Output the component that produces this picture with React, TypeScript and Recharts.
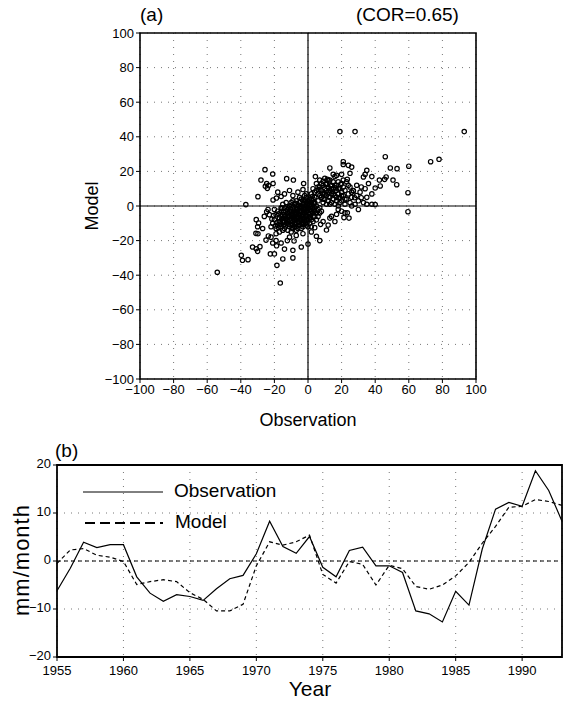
import {
  ScatterChart,
  Scatter,
  LineChart,
  Line,
  XAxis,
  YAxis,
  CartesianGrid,
  ReferenceLine,
  ReferenceArea,
} from 'recharts'

// panel (a): [observation, model] pairs
const scatterPoints: [number, number][] = [
  // outliers and the sparse edges
  [19, 43], [28, 43], [93, 43], [46, 28.5], [73, 25.6], [78, 27], [60, 23], [49, 22], [53, 21.6],
  [21, 25.6], [21, 24], [24, 23.5], [26, 22.5], [13, 22], [35, 20.6], [34, 18.3], [33, 16.8],
  [38, 17], [42.5, 15], [46.5, 16.8], [45.6, 15.4], [50.6, 15], [52.8, 12.3], [43, 11.6],
  [40, 10.4], [59.5, 7.7], [31.7, 11], [29, 12], [27, 8.7], [27.8, 4.8], [31.7, 4.8], [40, 0.8],
  [59.5, -3.3], [23.4, -3.9], [24.4, -7], [21.4, -6.7], [20, -3], [17, -4.8], [14, -6], [13, -7],
  [11, -13.9], [7.5, -10.6], [5, -17.5], [4, -12.5], [0, -22], [-4, -23.7], [-9, -25.6], [-9, -30],
  [-15, -30.6], [-18.5, -34.3], [-16.5, -44.5], [-54, -38.3], [-39.7, -28.5], [-39, -31.4],
  [-35.7, -31], [-33, -23.7], [-30.8, -24.7], [-30, -26.2], [-28.6, -23.5], [-22.4, -27.7],
  [-20, -27.7], [-21, -21.4], [-18.7, -23], [-14, -24.9], [-16, -21.4], [-12.3, -20], [-8.3, -20.2],
  [-25, -19.7], [-23.6, -17.3], [-29.8, -16], [-31, -15.8], [-30.8, -7.9], [-30, -12], [-29.4, -9.8],
  [-37, 0.8], [-29.8, 5.4], [-28, 15], [-25.6, 21], [-21, 18.5], [-24.6, 13], [-25.4, 11.4],
  [-23.4, 11.8], [-20.8, 13], [-24.2, 10.2], [-12.7, 15.8], [-8.7, 15], [-20.8, 3.5], [-18.8, 4.6],
  [-23.8, -2], [-24.6, -3.3], [-2.6, 13], [4.4, 17], [9, 14.3], [11, 12.5], [15, 18.3], [17, 17.7],
  [20, 18.3], [25, 18.9], [23.4, 15.4], [-18, 8], [-14, 7], [-11, 9], [-9, 6], [-16, 5.5], [-6, 8],
  [-3, 9.5], [-1, 7], [-26, -6], [-27, -13], [-22, -18], [-19, -20], [-7, -17], [-3, -16], [2, -15],
  [9, -9], [12, -11], [16, -9], [18, -2], [22, -4], [26, 0], [30, -2], [35, 1], [7, -20], [-11, -18],
  // dense centre blob
  [-20, -8], [-19, -5], [-18, -11], [-17, -7], [-16, -3], [-16, -12], [-15, -9], [-15, -5], [-14, -1],
  [-14, -13], [-13, -7], [-13, -10], [-12, -4], [-12, -2], [-12, -14], [-11, -8], [-11, -6], [-11, 0],
  [-10, -11], [-10, -5], [-10, -3], [-10, 2], [-9, -9], [-9, -7], [-9, -1], [-9, -13], [-8, -4],
  [-8, -6], [-8, 1], [-8, -10], [-7, -8], [-7, -2], [-7, -5], [-7, 3], [-7, -12], [-6, -7], [-6, -3],
  [-6, 0], [-6, -9], [-5, -5], [-5, -1], [-5, 2], [-5, -11], [-4, -6], [-4, -3], [-4, -8], [-4, 4],
  [-3, -2], [-3, -5], [-3, 1], [-3, -10], [-2, -4], [-2, 0], [-2, -7], [-2, 3], [-1, -3], [-1, -6],
  [-1, 2], [-1, 5], [0, -1], [0, -4], [0, -8], [0, 3], [1, -2], [1, 1], [1, -5], [2, -3], [2, 4],
  [2, 0], [3, -1], [3, -6], [4, 2], [4, -3], [5, 0], [5, -8], [-21, -10], [-19, -13], [-18, -3],
  [-17, -15], [-16, -1], [-15, -14], [-14, -6], [-13, -3], [-12, -9], [-11, -12], [-10, -7], [-9, -4],
  [-8, -8], [-8, -12], [-7, 0], [-6, -5], [-6, -11], [-5, -8], [-5, -3], [-4, -1], [-4, -10],
  [-3, -7], [-3, 3], [-2, -9], [-2, -2], [-1, -8], [-1, 0], [0, -6], [0, 1], [1, -7], [1, 4], [2, -8],
  [2, 2], [3, -4], [3, 4], [4, -1], [4, -6], [-23, -5], [-22, -12], [-20, -2], [-19, -16], [-17, -9],
  [-16, -6], [-15, 1], [-14, -9], [-13, 2], [-12, -6], [-11, -3], [-10, -15], [-9, -11], [-9, 3],
  [-7, -14], [-6, -13], [-5, 5], [-4, -13], [-3, -12], [-2, 6], [-1, -11], [0, -12], [1, -10],
  [2, -12], [3, -9], [5, -4], [6, -2], [6, -6], [7, -1], [7, -4], [8, -3],
  [-18.5, -9.5], [-17.5, -4.5], [-16.5, -10.5], [-15.5, -7.5], [-14.5, -3.5], [-13.5, -11.5],
  [-13.5, -5.5], [-12.5, -8.5], [-12.5, -0.5], [-11.5, -4.5], [-11.5, -10.5], [-10.5, -1.5],
  [-10.5, -8.5], [-9.5, -5.5], [-9.5, -12.5], [-9.5, 0.5], [-8.5, -2.5], [-8.5, -7.5], [-7.5, -10.5],
  [-7.5, -3.5], [-7.5, 1.5], [-6.5, -6.5], [-6.5, -1.5], [-5.5, -9.5], [-5.5, -4.5], [-5.5, 0.5],
  [-4.5, -7.5], [-4.5, -2.5], [-4.5, 2.5], [-3.5, -5.5], [-3.5, -0.5], [-3.5, -8.5], [-2.5, -3.5],
  [-2.5, 1.5], [-2.5, -10.5], [-1.5, -5.5], [-1.5, -1.5], [-1.5, 3.5], [-0.5, -9.5], [-0.5, -2.5],
  [0.5, -4.5], [0.5, 2.5], [1.5, -0.5], [1.5, -6.5], [2.5, -1.5], [2.5, 5.5], [3.5, 1.5], [3.5, -2.5],
  [-20.5, -5.5], [-19.5, -11.5], [-21.5, -7.5], [-17.5, -12.5], [-15.5, -1.5], [-14.5, -11],
  // upper right cluster
  [2, 7], [3, 10], [4, 5], [5, 9], [5, 13], [6, 3], [6, 7], [7, 11], [7, 15], [8, 5], [8, 9], [9, 2],
  [9, 7], [9, 12], [10, 4], [10, 10], [10, 16], [11, 6], [11, 1], [11, 13], [12, 8], [12, 3], [12, 11],
  [13, 5], [13, 15], [13, 9], [14, 2], [14, 12], [14, 7], [15, 4], [15, 10], [15, 14], [16, 6],
  [16, 1], [16, 17], [17, 9], [17, 3], [17, 12], [18, 7], [18, 14], [18, 0], [19, 5], [19, 10],
  [20, 3], [20, 8], [20, 13], [21, 6], [21, 11], [22, 1], [22, 9], [23, 4], [23, 14], [24, 7], [25, 2],
  [25, 11], [26, 5], [27, 9], [28, 1], [3, 2], [4, 8], [6, 11], [7, 6], [8, 13], [9, 4], [10, 7],
  [11, 9], [12, 15], [13, 1], [14, 10], [15, 7], [16, 12], [17, 5], [18, 10], [19, 2], [20, 6],
  [21, 15], [22, 4], [24, 12], [26, 8], [29, 6], [30, 3], [31, 8], [33, 2], [34, 10], [35, 5],
  [36, 13], [38, 1], [38, 7], [8.5, 7.5], [10.5, 12.5], [12.5, 5.5], [14.5, 8.5], [16.5, 10.5],
  [18.5, 4.5], [11.5, 15.5], [13.5, 11.5], [19.5, 12.5], [6.5, 9.5],
]

const axisTicks = [-100, -80, -60, -40, -20, 0, 20, 40, 60, 80, 100]

// panel (b): yearly series
const years = [
  1955, 1956, 1957, 1958, 1959, 1960, 1961, 1962, 1963, 1964, 1965, 1966, 1967, 1968, 1969, 1970,
  1971, 1972, 1973, 1974, 1975, 1976, 1977, 1978, 1979, 1980, 1981, 1982, 1983, 1984, 1985, 1986,
  1987, 1988, 1989, 1990, 1991, 1992, 1993,
]
const observation = [
  -6.2, -1.5, 3.9, 2.8, 3.4, 3.4, -3.3, -6.7, -8.4, -7.0, -7.4, -8.2, -5.8, -3.7, -3.0, 1.5,
  8.3, 3.0, 1.6, 5.1, -1.3, -3.3, 2.2, 2.9, -1.0, -1.0, -2.4, -10.4, -11.0, -12.7, -6.3, -9.2,
  2.5, 10.8, 12.2, 11.4, 18.8, 14.7, 8.3,
]
const model = [
  -0.5, 2.3, 2.6, 1.2, 0.8, -0.1, -4.9, -4.3, -3.9, -4.3, -6.6, -8.0, -10.4, -10.4, -9.0, -1.0,
  4.0, 3.3, 4.0, 5.4, -2.8, -4.6, -0.1, -0.7, -5.0, -0.9, -1.6, -5.3, -5.9, -5.0, -3.1, -0.3,
  3.7, 7.2, 11.2, 11.4, 12.8, 12.4, 11.6,
]
const yearTicks = [1955, 1960, 1965, 1970, 1975, 1980, 1985, 1990]
const valueTicks = [-20, -10, 0, 10, 20]

const FONT = '"Liberation Sans", Arial, sans-serif'
const minus = (v: number) => String(v).replace('-', '\u2212')

const Ring = (props: any) => (
  <circle cx={props.cx} cy={props.cy} r={2.2} fill="none" stroke="#000" strokeWidth={1.2} />
)

export default function App() {
  const scatterData = scatterPoints.map(([x, y]) => ({ x, y }))
  const seriesData = years.map((year, i) => ({ year, obs: observation[i], model: model[i] }))
  const tickStyle = { fill: '#000', fontSize: 13, fontFamily: FONT }

  return (
    <div style={{ position: 'absolute', left: 0, top: 0, width: 563, height: 703, background: '#fff', fontFamily: FONT }}>
      {/* panel (a) */}
      <div style={{ position: 'absolute', left: 140, top: 4, fontSize: 19 }}>(a)</div>
      <div style={{ position: 'absolute', left: 356, top: 4, fontSize: 19 }}>(COR=0.65)</div>
      <div
        style={{
          position: 'absolute', left: 92, top: 206, fontSize: 18,
          transform: 'translate(-50%, -50%) rotate(-90deg)',
        }}
      >
        Model
      </div>
      <div style={{ position: 'absolute', left: 308, top: 410, fontSize: 18, transform: 'translateX(-50%)' }}>
        Observation
      </div>
      <div style={{ position: 'absolute', left: 0, top: 0 }}>
        <ScatterChart width={563} height={440} margin={{ top: 33, right: 87, bottom: 31, left: 100 }}>
          <CartesianGrid stroke="#777" strokeDasharray="1 6" />
          <XAxis
            type="number" dataKey="x" domain={[-100, 100]} ticks={axisTicks} tickFormatter={minus}
            tick={tickStyle} tickSize={4} axisLine={false} tickLine={{ stroke: '#000' }} height={30}
            interval={0} allowDataOverflow
          />
          <YAxis
            type="number" dataKey="y" domain={[-100, 100]} ticks={axisTicks} tickFormatter={minus}
            tick={tickStyle} tickSize={4} axisLine={false} tickLine={{ stroke: '#000' }} width={40}
            interval={0} allowDataOverflow
          />
          <ReferenceLine x={0} stroke="#000" strokeWidth={1.2} />
          <ReferenceLine y={0} stroke="#000" strokeWidth={1.2} />
          <ReferenceArea x1={-100} x2={100} y1={-100} y2={100} fill="none" stroke="#000" strokeWidth={1.6} />
          <Scatter data={scatterData} shape={Ring} isAnimationActive={false} />
        </ScatterChart>
      </div>

      {/* panel (b) */}
      <div style={{ position: 'absolute', left: 55, top: 440, fontSize: 19 }}>(b)</div>
      <div
        style={{
          position: 'absolute', left: 22, top: 560, fontSize: 22, letterSpacing: 1,
          transform: 'translate(-50%, -50%) rotate(-90deg)', whiteSpace: 'nowrap',
        }}
      >
        mm/month
      </div>
      <div style={{ position: 'absolute', left: 310, top: 677, fontSize: 21, transform: 'translateX(-50%)' }}>
        Year
      </div>
      <div style={{ position: 'absolute', left: 0, top: 440 }}>
        <LineChart width={563} height={263} data={seriesData} margin={{ top: 25, right: 1, bottom: 21, left: 17 }}>
          <CartesianGrid stroke="#777" strokeDasharray="1 6" />
          <XAxis
            type="number" dataKey="year" domain={[1955, 1993]} ticks={yearTicks}
            tick={{ ...tickStyle, dy: 3 }} tickSize={4} axisLine={false} tickLine={{ stroke: '#000' }}
            height={25} interval={0}
          />
          <YAxis
            type="number" domain={[-20, 20]} ticks={valueTicks} tickFormatter={minus}
            tick={{ ...tickStyle, dy: -2 }} tickSize={4} axisLine={false} tickLine={{ stroke: '#000' }}
            width={40} interval={0}
          />
          <ReferenceLine y={0} stroke="#000" strokeDasharray="4 3" />
          <ReferenceArea x1={1955} x2={1993} y1={-20} y2={20} fill="none" stroke="#000" strokeWidth={1.8} />
          <Line dataKey="obs" type="linear" stroke="#000" strokeWidth={1.2} dot={false} isAnimationActive={false} />
          <Line
            dataKey="model" type="linear" stroke="#000" strokeWidth={1.2} strokeDasharray="4 3"
            dot={false} isAnimationActive={false}
          />
        </LineChart>
      </div>

      {/* legend */}
      <svg style={{ position: 'absolute', left: 0, top: 0 }} width={563} height={703} pointerEvents="none">
        <line x1={83} y1={492} x2={163} y2={492} stroke="#000" strokeWidth={1} />
        <line x1={85} y1={523} x2={163} y2={523} stroke="#000" strokeWidth={2} strokeDasharray="10 5" />
      </svg>
      <div style={{ position: 'absolute', left: 174, top: 480, fontSize: 19 }}>Observation</div>
      <div style={{ position: 'absolute', left: 175, top: 511, fontSize: 19 }}>Model</div>
    </div>
  )
}
